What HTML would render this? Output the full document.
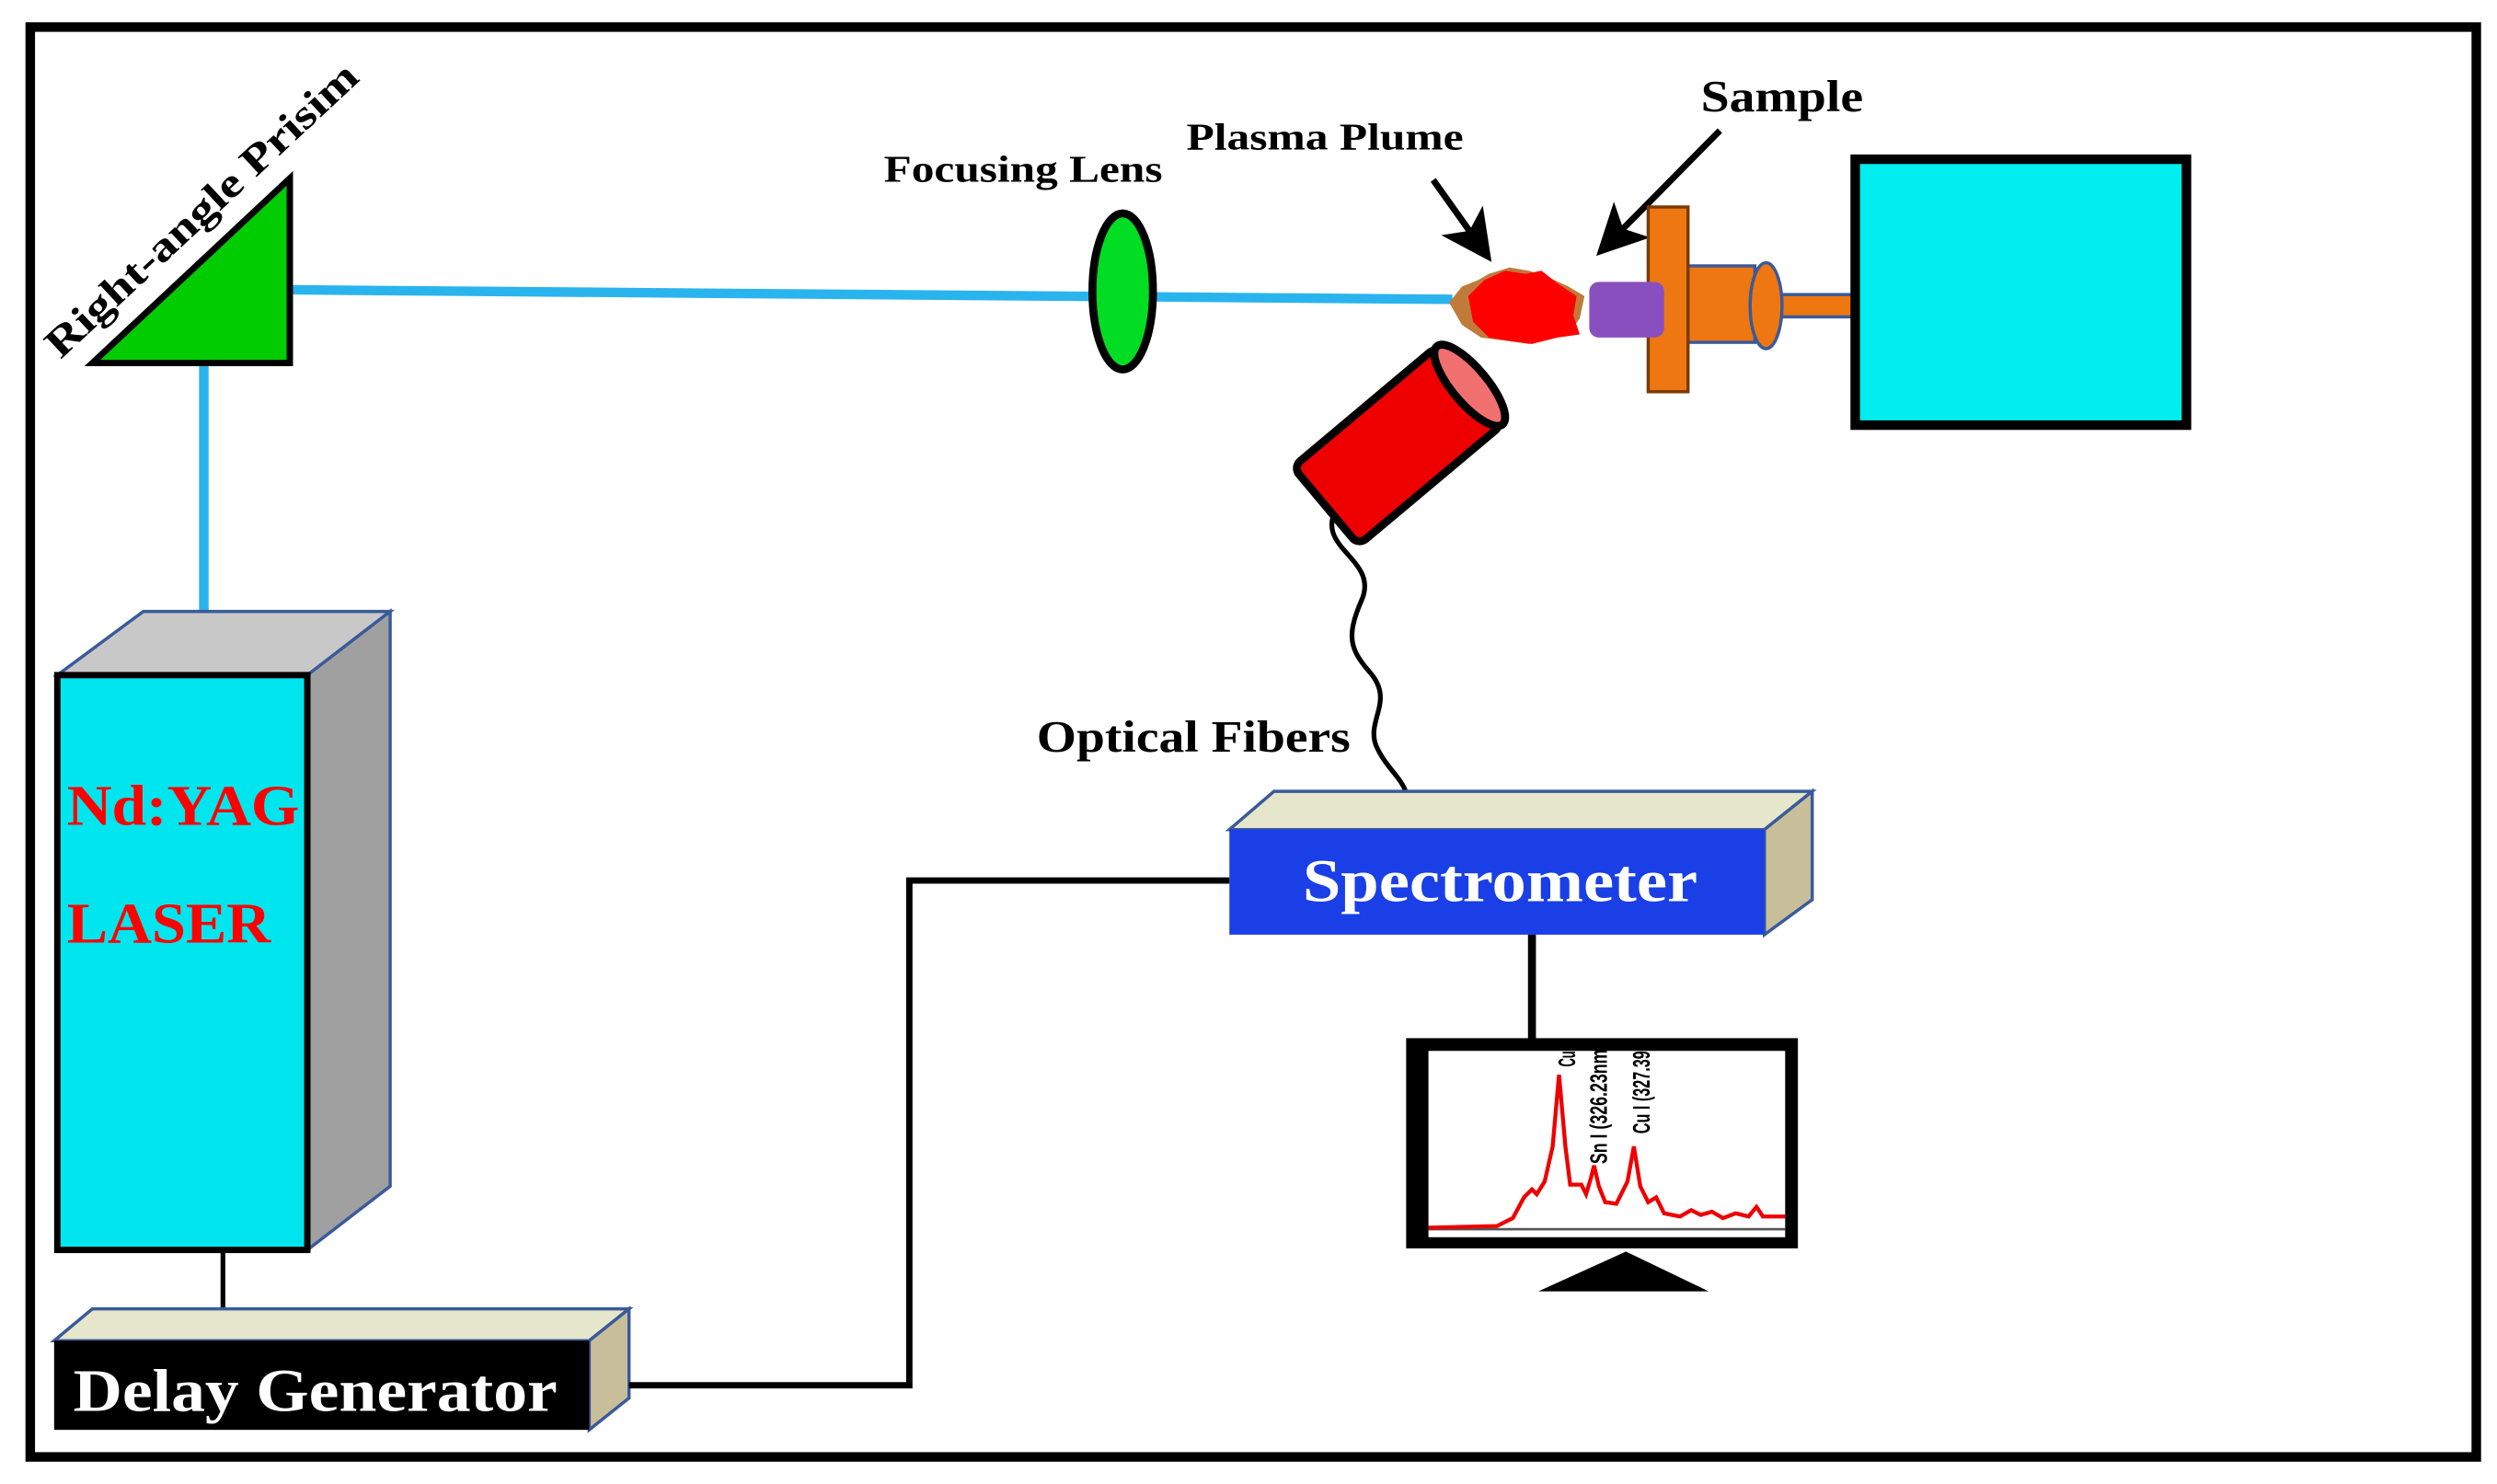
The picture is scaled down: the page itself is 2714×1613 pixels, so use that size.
<!DOCTYPE html>
<html><head><style>html,body{margin:0;padding:0;background:#fff}svg{display:block}</style></head>
<body>
<svg width="2714" height="1613" viewBox="0 0 1568 932" preserveAspectRatio="none" xmlns="http://www.w3.org/2000/svg" font-family="Liberation Serif, serif" font-weight="bold">
<defs>
<marker id="ah" markerWidth="8" markerHeight="8" refX="6" refY="4" orient="auto" markerUnits="strokeWidth">
<path d="M0,0 L8,4 L0,8 L2,4 z" fill="#000"/></marker>
</defs>
<rect x="0" y="0" width="1568" height="932" fill="#fff"/>
<rect x="19" y="17" width="1536" height="898" fill="none" stroke="#000" stroke-width="6"/>
<line x1="182" y1="182" x2="912" y2="188" stroke="#2ab4ee" stroke-width="6"/>
<line x1="128" y1="228" x2="128" y2="386" stroke="#2ab4ee" stroke-width="6"/>
<polygon points="58,228 182,112 182,228" fill="#00cc00" stroke="#000" stroke-width="4"/>
<text transform="translate(38,226) rotate(-43)" font-size="26" fill="#000" textLength="258" lengthAdjust="spacingAndGlyphs">Right-angle Prisim</text>
<ellipse cx="705" cy="183" rx="19" ry="49" fill="#00dd22" stroke="#000" stroke-width="5"/>
<text x="555" y="114" font-size="24" textLength="175" lengthAdjust="spacingAndGlyphs">Focusing Lens</text>
<text x="745" y="94" font-size="24" textLength="174" lengthAdjust="spacingAndGlyphs">Plasma Plume</text>
<text x="1068" y="70" font-size="28" textLength="102" lengthAdjust="spacingAndGlyphs">Sample</text>
<text x="651" y="472" font-size="28" textLength="197" lengthAdjust="spacingAndGlyphs">Optical Fibers</text>
<line x1="900" y1="113" x2="932" y2="158" stroke="#000" stroke-width="4" marker-end="url(#ah)"/>
<line x1="1080" y1="82" x2="1008" y2="155" stroke="#000" stroke-width="4" marker-end="url(#ah)"/>
<path d="M910,190 L918,180 L928,176 L935,172 L948,168 L960,170 L972,174 L985,180 L995,186 L992,200 L985,210 L972,213 L960,216 L945,214 L930,212 L918,204 Z" fill="#c07a3a"/>
<path d="M922,186 L932,176 L945,170 L958,172 L968,170 L978,178 L990,186 L988,198 L992,210 L978,212 L962,216 L948,214 L935,212 L925,202 Z" fill="#ff0000"/>
<rect x="1115" y="185" width="50" height="14" fill="#ee7711" stroke="#3a5a9a" stroke-width="2"/>
<rect x="1060" y="167" width="42" height="48" fill="#ee7711" stroke="#3a5a9a" stroke-width="2"/>
<ellipse cx="1109" cy="192" rx="10" ry="27" fill="#ee7711" stroke="#3a5a9a" stroke-width="2"/>
<rect x="1035" y="130" width="25" height="116" fill="#ee7711" stroke="#7a3a00" stroke-width="2"/>
<rect x="998" y="177" width="47" height="35" rx="6" fill="#8a4fbf"/>
<rect x="1165" y="100" width="208" height="167" fill="#00eeee" stroke="#000" stroke-width="6"/>
<g transform="translate(880,278) rotate(-40)">
<rect x="-62" y="-32" width="118" height="64" fill="#ee0000" stroke="#000" stroke-width="5" rx="6"/>
<ellipse cx="56" cy="0" rx="11" ry="32" fill="#f07070" stroke="#000" stroke-width="5"/>
</g>
<path d="M838,322 C828,345 866,352 855,377 C845,400 848,408 860,422 C876,440 858,452 864,468 C870,482 880,488 883,498" fill="none" stroke="#000" stroke-width="3"/>
<polygon points="36,424 90,384 245,384 193,424" fill="#c8c8c8" stroke="#3a5a9a" stroke-width="2"/>
<polygon points="193,424 245,384 245,745 193,785" fill="#a0a0a0" stroke="#3a5a9a" stroke-width="2"/>
<rect x="36" y="424" width="157" height="361" fill="#00e5ee" stroke="#000" stroke-width="4"/>
<text x="42" y="518" font-size="36" fill="#ff0000" textLength="146" lengthAdjust="spacingAndGlyphs">Nd:YAG</text>
<text x="42" y="592" font-size="36" fill="#ff0000" textLength="128" lengthAdjust="spacingAndGlyphs">LASER</text>
<line x1="140" y1="785" x2="140" y2="824" stroke="#000" stroke-width="3"/>
<polygon points="34,842 58,822 395,822 370,842" fill="#e6e6cc" stroke="#3a5a9a" stroke-width="2"/>
<polygon points="370,842 395,822 395,878 370,898" fill="#c8bf9a" stroke="#3a5a9a" stroke-width="2"/>
<rect x="34" y="842" width="336" height="56" fill="#000"/>
<text x="46" y="886" font-size="38" fill="#fff" textLength="304" lengthAdjust="spacingAndGlyphs">Delay Generator</text>
<polyline points="395,870 571,870 571,553 772,553" fill="none" stroke="#000" stroke-width="4"/>
<polygon points="772,521 800,497 1138,497 1108,521" fill="#e6e6cc" stroke="#3a5a9a" stroke-width="2"/>
<polygon points="1108,521 1138,497 1138,565 1108,587" fill="#c8bf9a" stroke="#3a5a9a" stroke-width="2"/>
<rect x="772" y="521" width="336" height="66" fill="#1a3fe6"/>
<text x="818" y="566" font-size="38" fill="#fff" textLength="248" lengthAdjust="spacingAndGlyphs">Spectrometer</text>
<line x1="962" y1="587" x2="962" y2="655" stroke="#000" stroke-width="5"/>
<rect x="883" y="652" width="246" height="132" fill="#000"/>
<rect x="897" y="660" width="224" height="117" fill="#fff"/>
<polygon points="966,811 1021,786 1073,811" fill="#000"/>
<line x1="897" y1="772" x2="1121" y2="772" stroke="#555" stroke-width="1.5"/>
<path d="M897,771 L940,770 L950,765 L957,752 L962,747 L965,750 L970,742 L975,720 L979,675 L983,720 L986,744 L993,744 L996,750 L999,740 L1001,732 L1004,745 L1008,755 L1015,756 L1022,742 L1026,720 L1030,745 L1035,755 L1040,752 L1045,762 L1055,764 L1062,760 L1068,763 L1075,761 L1082,765 L1090,762 L1098,764 L1103,758 L1107,764 L1121,764" fill="none" stroke="#e00" stroke-width="2.5"/>
<g font-family="Liberation Sans, sans-serif" font-weight="bold" font-size="15" fill="#000">
<text transform="translate(989,670) rotate(-90)" textLength="10" lengthAdjust="spacingAndGlyphs">Cu</text>
<text transform="translate(1009,731) rotate(-90)" textLength="72" lengthAdjust="spacingAndGlyphs">Sn I (326.23nm</text>
<text transform="translate(1036,712) rotate(-90)" textLength="52" lengthAdjust="spacingAndGlyphs">Cu I (327.39</text>
</g>
</svg>
</body></html>
